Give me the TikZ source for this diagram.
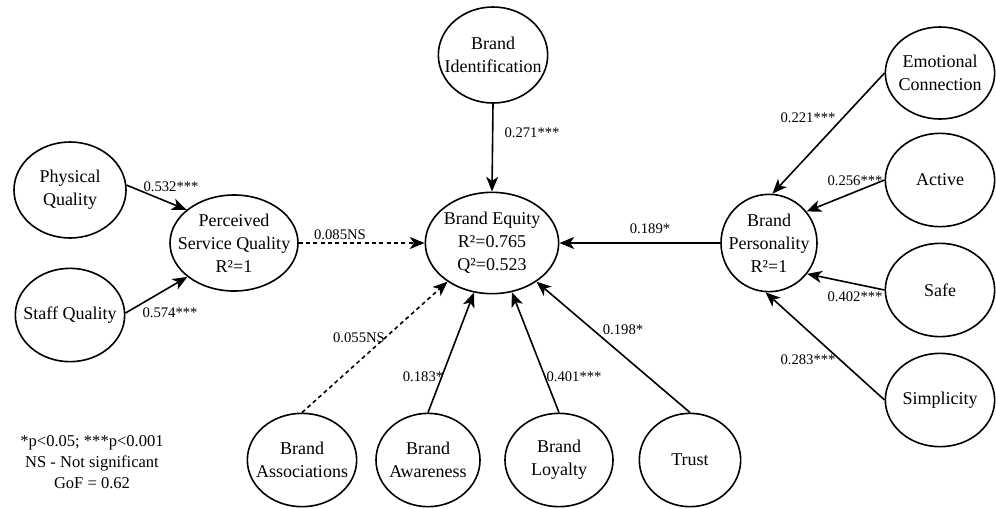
\documentclass[tikz,border=0pt]{standalone}
\usepackage{fontspec}
\setmainfont{Liberation Serif}
\usetikzlibrary{shapes.geometric,arrows.meta}

\begin{document}
\begin{tikzpicture}[x=0.75pt,y=-0.75pt,
  lv/.style={ellipse,draw,line width=1.2pt,inner sep=0pt,minimum width=82pt,minimum height=70pt},
  lvt/.style={align=center,inner sep=0pt,font=\fontsize{13.5}{17.25}\selectfont},
  coef/.style={inner sep=0pt,font=\fontsize{11}{13}\selectfont},
  path/.style={line width=1.2pt,-{Stealth[length=11pt,width=9pt,inset=3pt]}},
  ns/.style={path,dash pattern=on 3pt off 2.5pt}]
\useasboundingbox (0,0) rectangle (996,508);
% latent variables
\node[lv,minimum width=84pt,minimum height=72pt,label={[lvt]center:Physical\\Quality}] (phys) at (70,190) {};
\node[lv,label={[lvt]center:Staff Quality}] (staff) at (70,315) {};
\node[lv,minimum width=96pt,minimum height=72pt,label={[lvt]center:Perceived\\Service Quality\\R²=1}] (psq) at (234,243) {};
\node[lv,minimum height=72pt,label={[lvt]center:Brand\\Identification}] (ident) at (493,55) {};
\node[lv,minimum width=100pt,minimum height=76pt,label={[lvt]center:Brand Equity\\R²=0.765\\Q²=0.523}] (equity) at (492,243) {};
\node[lv,minimum width=72pt,minimum height=73pt,label={[lvt]center:Brand\\Personality\\R²=1}] (pers) at (769,243) {};
\node[lv,minimum height=69pt,label={[lvt]center:Emotional\\Connection}] (emo) at (940,73) {};
\node[lv,label={[lvt]center:Active}] (active) at (940,180) {};
\node[lv,label={[lvt]center:Safe}] (safe) at (940,290) {};
\node[lv,label={[lvt]center:Simplicity}] (simp) at (940,400) {};
\node[lv,label={[lvt]center:Brand\\Associations}] (assoc) at (302,460) {};
\node[lv,minimum width=78pt,label={[lvt]center:Brand\\Awareness}] (aware) at (428,460) {};
\node[lv,minimum width=81pt,label={[lvt]center:Brand\\Loyalty}] (loyal) at (559,460) {};
\node[lv,minimum width=76pt,label={[lvt]center:Trust}] (trust) at (690,460) {};
% paths
\draw[path] (phys.5) -- (psq.145);
\draw[path] (staff.2) -- (psq.216);
\draw[ns] (psq.east) -- (equity.west);
\draw[path] (ident.south) -- (equity.north);
\draw[path] (pers.west) -- (equity.east);
\draw[path] (emo.west) -- (pers.86);
\draw[path] (active.west) -- (pers.40);
\draw[path] (safe.west) -- (pers.321);
\draw[path] (simp.west) -- (pers.266);
\draw[ns] (assoc.north) -- (equity.221);
\draw[path] (aware.north) -- (equity.250);
\draw[path] (loyal.north) -- (equity.292);
\draw[path] (trust.north) -- (equity.319);
% coefficients
\node[coef] (cphys) at (171,187) {0.532***};
\node[coef] (cstaff) at (170,313) {0.574***};
\node[coef] (cpsq) at (340,235) {0.085NS};
\node[coef] (cident) at (532,133) {0.271***};
\node[coef] (cpers) at (650,229) {0.189*};
\node[coef] (cemo) at (808,118) {0.221***};
\node[coef] (cactive) at (855,181) {0.256***};
\node[coef] (csafe) at (855,297) {0.402***};
\node[coef] (csimp) at (808,360) {0.283***};
\node[coef] (cassoc) at (359,338) {0.055NS};
\node[coef] (caware) at (423,377) {0.183*};
\node[coef] (cloyal) at (574,377) {0.401***};
\node[coef] (ctrust) at (623,330) {0.198*};
% legend
\node[align=center,inner sep=0pt,font=\fontsize{12.4}{15.75}\selectfont] (key) at (92,462) {*p<0.05; ***p<0.001\\NS - Not significant\\GoF = 0.62};
\end{tikzpicture}
\end{document}
